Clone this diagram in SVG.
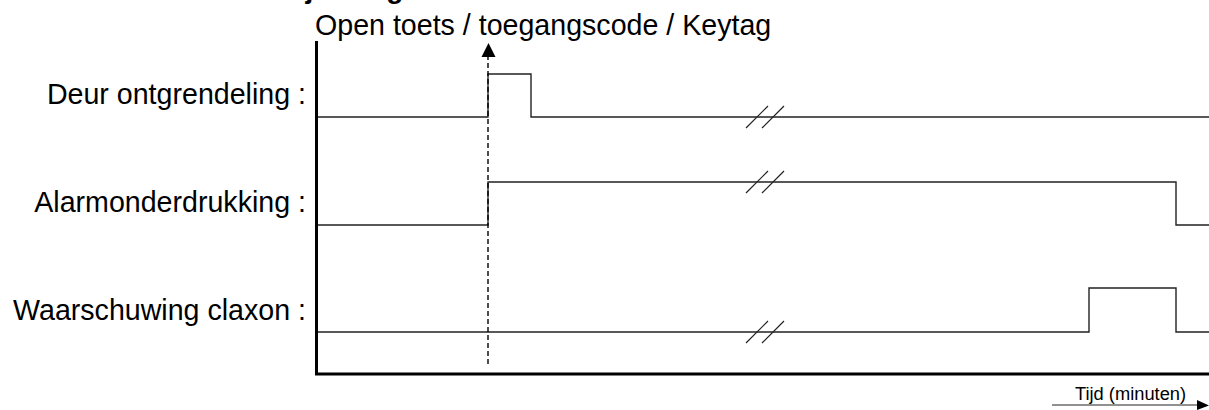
<svg xmlns="http://www.w3.org/2000/svg" width="1209" height="410" viewBox="0 0 1209 410">
<style>
.lbl{font-family:"Liberation Sans",Arial,sans-serif;font-size:28.6px;fill:#000}
.sig{fill:none;stroke:#222;stroke-width:1.4}
.brk{stroke:#222;stroke-width:1.2}
.axis{fill:none;stroke:#000;stroke-width:3}
</style>
<rect width="1209" height="410" fill="#fff"/>
<text x="281" y="-2" style="font-family:'Liberation Sans',Arial,sans-serif;font-size:28px;font-weight:bold">Tijdsdiagram</text>
<g id="axes">
<path class="axis" d="M316.5,41 V374 H1209"/>
</g>
<g id="trigger">
<text class="lbl" x="315" y="35">Open toets / toegangscode / Keytag</text>
</g>
<g id="deur">
<text class="lbl" x="306" y="104" text-anchor="end">Deur ontgrendeling :</text>
<path class="sig" d="M318,117 H488 V74 H531 V117 H1209"/>
<path class="brk" d="M746,128 L768,106 M762,128 L784,106"/>
</g>
<g id="alarm">
<text class="lbl" x="306" y="212" text-anchor="end">Alarmonderdrukking :</text>
<path class="sig" d="M318,225 H488 V182 H1176 V225 H1209"/>
<path class="brk" d="M746,193 L768,171 M762,193 L784,171"/>
</g>
<g id="claxon">
<text class="lbl" x="306" y="320" text-anchor="end">Waarschuwing claxon :</text>
<path class="sig" d="M318,332 H1089 V288 H1176 V332 H1209"/>
<path class="brk" d="M746,343 L768,321 M762,343 L784,321"/>
</g>
<g id="connectors">
<line x1="488" y1="364" x2="488" y2="57" stroke="#000" stroke-width="1.4" stroke-dasharray="5,3"/>
<path d="M481.5,57 L488.5,43 L495.5,57 Z" fill="#000"/>
</g>
<g id="time">
<text x="1075" y="400" style="font-family:'Liberation Sans',Arial,sans-serif;font-size:18.3px">Tijd (minuten)</text>
<line x1="1052" y1="405" x2="1198" y2="405" stroke="#222" stroke-width="1"/>
<path d="M1197,400 L1209,405.5 L1197,410 Z" fill="#000"/>
</g>
</svg>
